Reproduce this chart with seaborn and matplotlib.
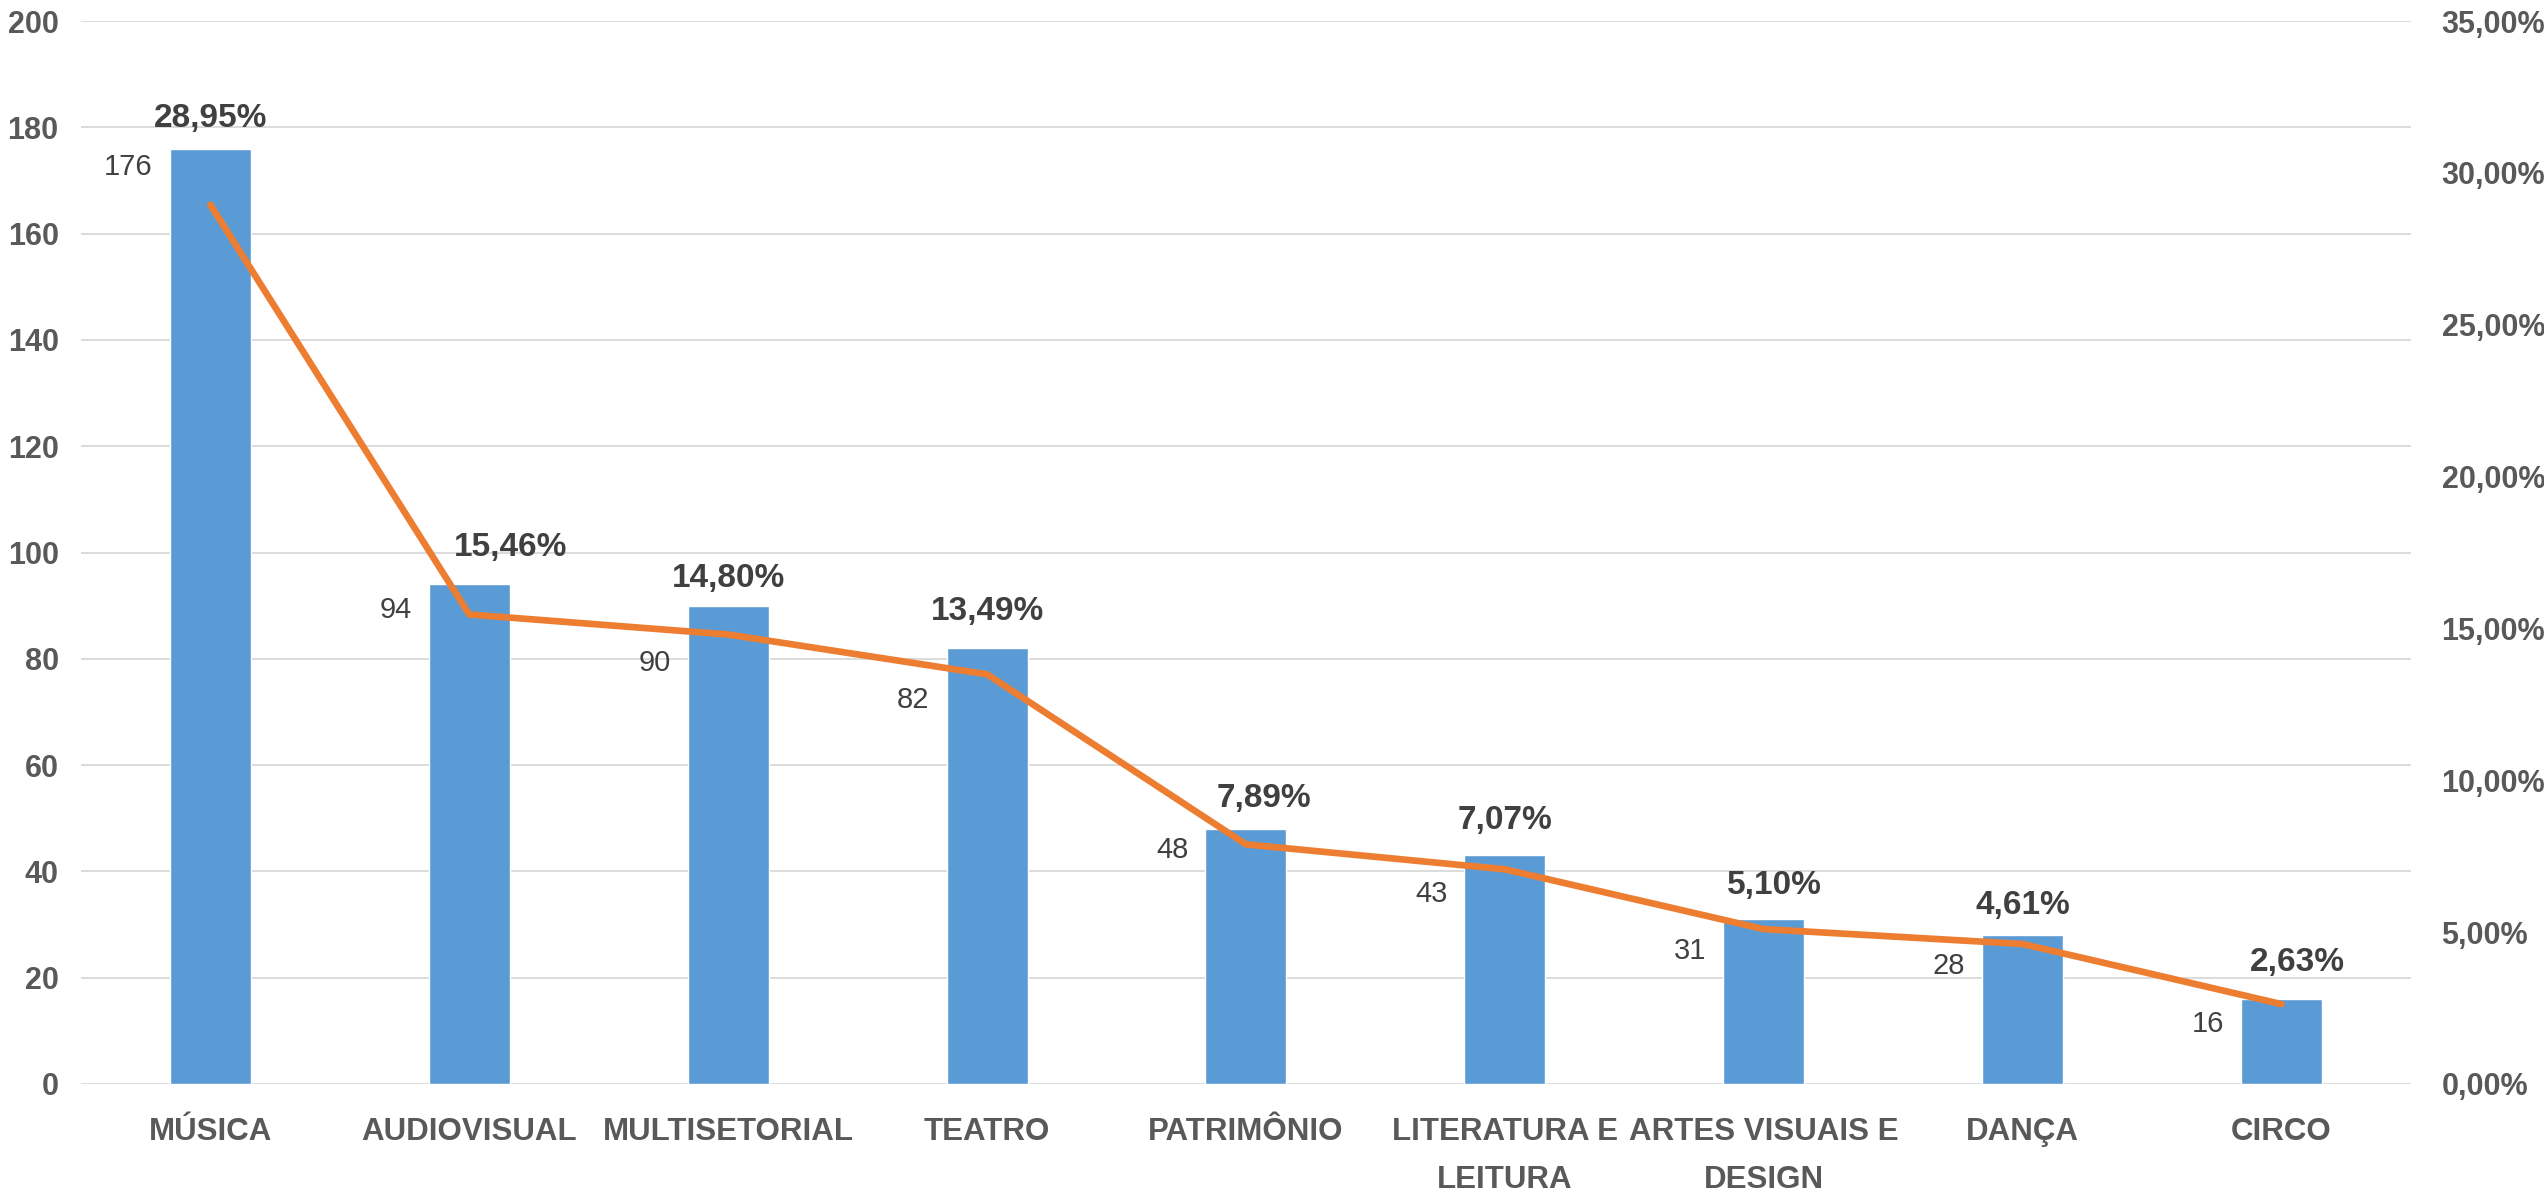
import numpy as np
import pandas as pd
import matplotlib
matplotlib.use('Agg')
import matplotlib.pyplot as plt
import seaborn as sns

# values
categorias = ['MÚSICA', 'AUDIOVISUAL', 'MULTISETORIAL', 'TEATRO', 'PATRIMÔNIO',
              'LITERATURA E\nLEITURA', 'ARTES VISUAIS E\nDESIGN', 'DANÇA', 'CIRCO']
quantidade = [176, 94, 90, 82, 48, 43, 31, 28, 16]
percentual = [28.95, 15.46, 14.80, 13.49, 7.89, 7.07, 5.10, 4.61, 2.63]

# label placement relative to the top of each bar (left-axis units / category units)
count_label_dy = [-3.5, -4.8, -10.7, -9.8, -4.0, -7.3, -5.9, -5.8, -4.7]
pct_label_dy = [5.6, 7.0, 5.1, 6.9, 5.8, 6.5, 6.4, 5.5, 6.8]
pct_label_dx = [0.0, 0.16, 0.0, 0.0, 0.07, 0.0, 0.04, 0.0, 0.06]

sns.set_style('white')
plt.rcParams['font.family'] = ['Liberation Sans Narrow', 'Liberation Sans', 'DejaVu Sans']

BLUE = '#5B9BD5'
ORANGE = '#ED7D31'
GRAY = '#595959'
DARK = '#404040'

df = pd.DataFrame({'categoria': categorias, 'quantidade': quantidade, 'percentual': percentual})

fig = plt.figure(figsize=(25.44, 11.95), dpi=100)
ax = fig.add_axes([0.0318, 0.0929, 0.9159, 0.8895])

sns.barplot(data=df, x='categoria', y='quantidade', color=BLUE, width=0.313,
            saturation=1, ax=ax)
ax.set_ylim(0, 200)
ax.set_xlim(-0.5, len(categorias) - 0.5)
ax.set_yticks(range(0, 201, 20))
ax.set_yticklabels([str(v) for v in range(0, 201, 20)], fontsize=22,
                   fontweight='bold', color=GRAY)
ax.set_xticks(range(len(categorias)))
ax.set_xticklabels(categorias, fontsize=22.5, fontweight='bold', color=GRAY, va='top')
for lab in ax.get_xticklabels():
    lab.set_linespacing(1.75)
ax.grid(axis='y', color='#D9D9D9', linewidth=1.3)
ax.set_axisbelow(True)
ax.set_xlabel('')
ax.set_ylabel('')
sns.despine(ax=ax, left=True, bottom=True, right=True, top=True)
ax.tick_params(axis='y', length=0, pad=16)
ax.tick_params(axis='x', length=0, pad=24)

# right axis with the percentage line
ax2 = ax.twinx()
sns.lineplot(x=np.arange(len(categorias)), y=percentual, color=ORANGE, linewidth=4.8,
             ax=ax2)
ax2.set_ylim(0, 35)
ax2.set_yticks(range(0, 36, 5))
ax2.set_yticklabels([f'{v:.2f}%'.replace('.', ',') for v in range(0, 36, 5)],
                    fontsize=22, fontweight='bold', color=GRAY)
ax2.tick_params(axis='y', length=0, pad=22)
sns.despine(ax=ax2, left=True, bottom=True, right=True, top=True)
ax2.grid(False)

# data labels (drawn in left-axis data units, on top of the line)
for i, (q, p) in enumerate(zip(quantidade, percentual)):
    ax2.text(i - 0.222, q + count_label_dy[i], str(q), transform=ax.transData,
             ha='right', va='center', fontsize=21, color=DARK)
    ax2.text(i + pct_label_dx[i], q + pct_label_dy[i], f'{p:.2f}%'.replace('.', ','),
             transform=ax.transData, ha='center', va='center', fontsize=24,
             fontweight='bold', color=DARK)

fig.savefig('out.png', dpi=100)
